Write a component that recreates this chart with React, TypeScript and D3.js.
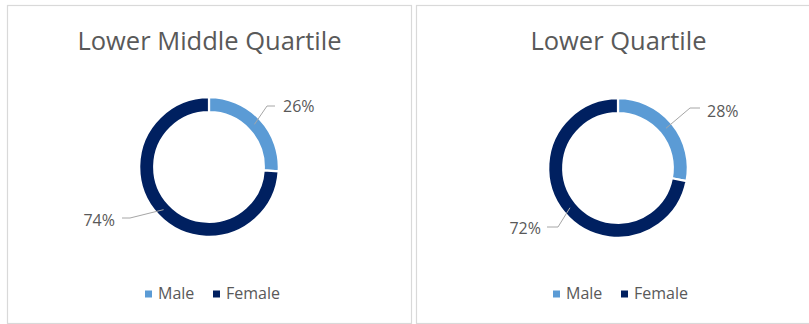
import React from "react";
import * as d3 from "d3";

const categories = ["Male", "Female"];
const chartTitles = ["Lower Middle Quartile", "Lower Quartile"];
const lowerMiddleValues = [26, 74];
const lowerValues = [28, 72];

const COLORS = ["#5B9BD5", "#002060"];
const TEXT = "#595959";
const W = 809;
const H = 324;

// Layout per panel (not data)
const panels = [
  {
    x: 7, y: 5, w: 404, h: 318,
    cx: 209, cy: 167,
    values: lowerMiddleValues,
    title: chartTitles[0],
    labels: [
      { elbow: [267, 106], end: [275, 106], tx: 283, ty: 112, anchor: "start" },
      { elbow: [130, 218], end: [122, 218], tx: 115, ty: 226, anchor: "end" },
    ],
    legendX: 145,
  },
  {
    x: 416, y: 5, w: 404, h: 318,
    cx: 618, cy: 168,
    values: lowerValues,
    title: chartTitles[1],
    labels: [
      { elbow: [690, 108], end: [700, 108], tx: 707, ty: 117, anchor: "start" },
      { elbow: [558, 227], end: [547, 227], tx: 541, ty: 234, anchor: "end" },
    ],
    legendX: 553,
  },
];

const OUTER = 69.8;
const INNER = 54.8;

function Donut({ p }: { p: (typeof panels)[number] }) {
  const pie = d3.pie<number>().sort(null).value((d) => d);
  const arcs = pie(p.values);
  const arc = d3.arc<d3.PieArcDatum<number>>().innerRadius(INNER).outerRadius(OUTER);
  const centroidArc = d3
    .arc<d3.PieArcDatum<number>>()
    .innerRadius((INNER + OUTER) / 2)
    .outerRadius((INNER + OUTER) / 2);
  const total = d3.sum(p.values);
  const fmt = d3.format(".0%");
  const legendFemaleX = p.legendX + 68;
  return (
    <g>
      <rect
        x={p.x + 0.5}
        y={p.y + 0.5}
        width={p.w}
        height={p.h}
        fill="#fff"
        stroke="#D9D9D9"
        strokeWidth={1.2}
      />
      <text
        x={p.cx + 0.5}
        y={49.5}
        textAnchor="middle"
        fontFamily="'Open Sans', sans-serif"
        fontSize={25.5}
        fill={TEXT}
      >
        {p.title}
      </text>
      <g transform={`translate(${p.cx},${p.cy})`}>
        {arcs.map((a, i) => (
          <path key={i} d={arc(a) || ""} fill={COLORS[i]} stroke="#fff" strokeWidth={2.2} />
        ))}
      </g>
      {arcs.map((a, i) => {
        const [mx, my] = centroidArc.centroid(a);
        const l = p.labels[i];
        return (
          <g key={"l" + i}>
            <polyline
              points={`${p.cx + mx},${p.cy + my} ${l.elbow[0]},${l.elbow[1]} ${l.end[0]},${l.end[1]}`}
              fill="none"
              stroke="#A6A6A6"
              strokeWidth={1}
            />
            <text
              x={l.tx}
              y={l.ty}
              textAnchor={l.anchor as any}
              fontFamily="'Open Sans', sans-serif"
              fontSize={16}
              fill={TEXT}
            >
              {fmt(a.data / total)}
            </text>
          </g>
        );
      })}
      {categories.map((c, i) => {
        const lx = i === 0 ? p.legendX : legendFemaleX;
        return (
          <g key={c}>
            <rect x={lx} y={290.5} width={7} height={7} fill={COLORS[i]} />
            <text
              x={lx + 13}
              y={298.5}
              fontFamily="'Open Sans', sans-serif"
              fontSize={16}
              fill={TEXT}
            >
              {c}
            </text>
          </g>
        );
      })}
    </g>
  );
}

export default function App() {
  return (
    <svg
      width={W}
      height={H}
      viewBox={`0 0 ${W} ${H}`}
      style={{ position: "absolute", left: 0, top: 0, background: "#fff" }}
    >
      <rect x={0} y={0} width={W} height={H} fill="#fff" />
      {panels.map((p, i) => (
        <Donut key={i} p={p} />
      ))}
    </svg>
  );
}
